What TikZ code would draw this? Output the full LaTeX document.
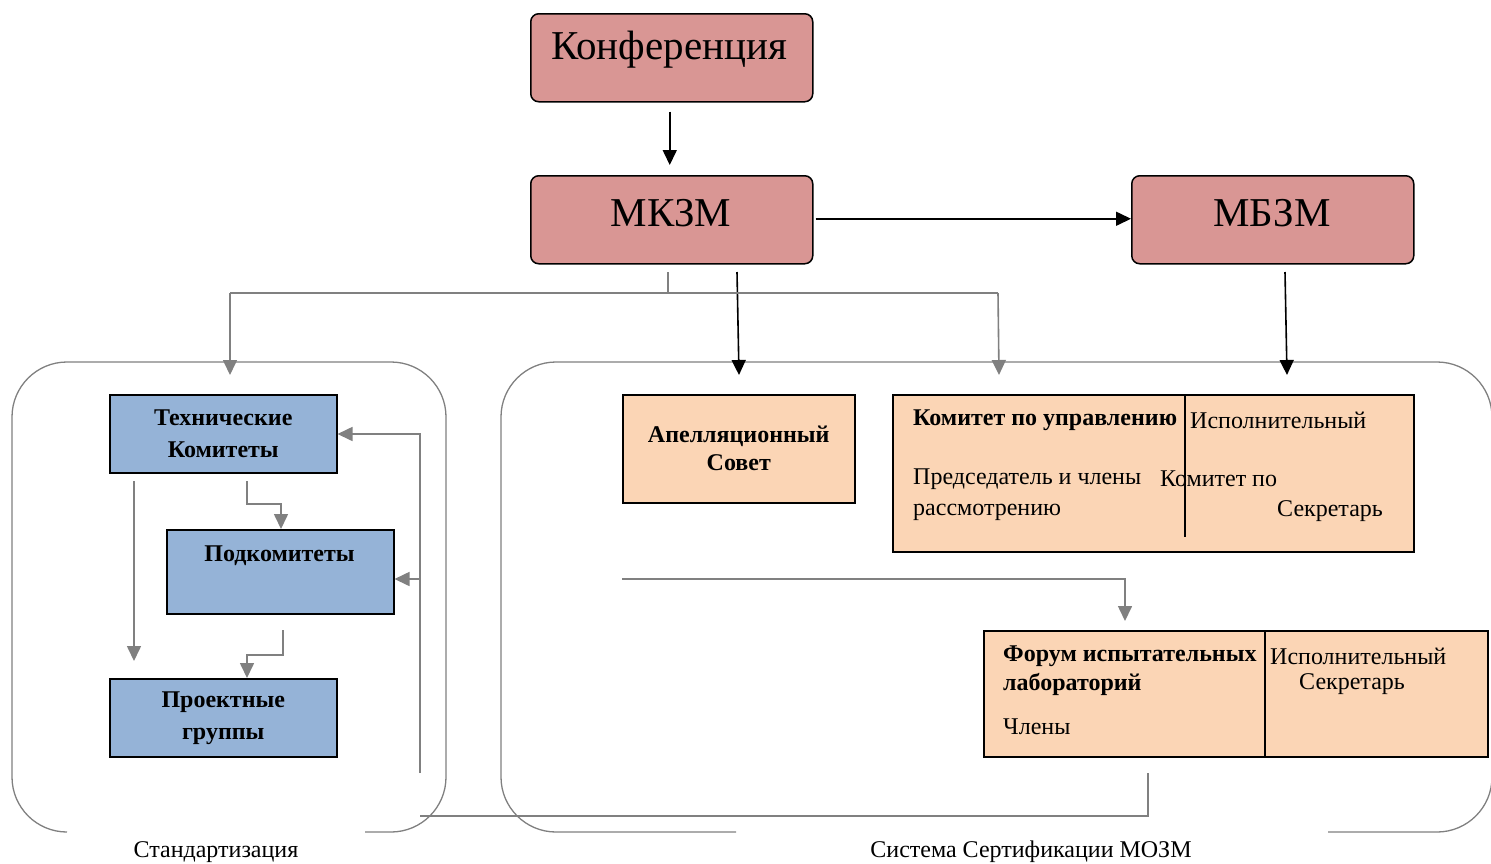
\documentclass[tikz,border=0pt]{standalone}
\usepackage{fontspec}
\setmainfont{Liberation Serif}
\usetikzlibrary{arrows.meta,calc}
\definecolor{pinkc}{HTML}{D99694}
\definecolor{bluec}{HTML}{95B3D7}
\definecolor{peachc}{HTML}{FBD5B5}
\definecolor{grayc}{HTML}{808080}
\tikzset{
  topbox/.style={draw=black,line width=1.5pt,rounded corners=8pt,fill=pinkc,minimum width=282pt,minimum height=88pt,anchor=north west,inner sep=0pt},
  toptxt/.style={inner sep=0pt,font=\fontsize{41}{44}\selectfont},
  bluebox/.style={draw=black,line width=1.5pt,fill=bluec,anchor=north west,inner sep=0pt,align=center,font=\fontsize{24}{32}\selectfont\bfseries},
  peachbox/.style={draw=black,line width=1.5pt,fill=peachc,anchor=north west,inner sep=0pt,align=center,font=\fontsize{24}{28}\selectfont\bfseries},
  txt/.style={inner sep=0pt,anchor=west,font=\fontsize{24}{28}\selectfont},
  btxt/.style={inner sep=0pt,anchor=west,font=\fontsize{24}{28}\selectfont\bfseries},
  container/.style={draw=grayc,line width=1.3pt,rounded corners=55pt},
  barrow/.style={draw=black,line width=1.6pt,-{Triangle[length=15pt,width=14pt]}},
  garrow/.style={draw=grayc,line width=1.6pt,-{Triangle[length=15pt,width=14pt]}},
  gline/.style={draw=grayc,line width=1.6pt},
  divider/.style={draw=black,line width=1.3pt}
}
\begin{document}
\begin{tikzpicture}[x=1pt,y=-1pt]
\useasboundingbox (0,0) rectangle (1491,863);

% containers
\draw[container] (365,832) -- (446,832) -- (446,362) -- (12,362) -- (12,832) -- (67,832);
\draw[container] (1328,832) -- (1492,832) -- (1492,362) -- (501,362) -- (501,832) -- (736,832);

% top boxes
\node[topbox] (conf) at (530,13) {};
\node[toptxt] (conft) at (669,50) {Конференция};
\node[topbox] (mkzm) at (530,175) {};
\node[toptxt] (mkzmt) at (671,213) {МКЗМ};
\node[topbox] (mbzm) at (1131,175) {};
\node[toptxt] (mbzmt) at (1272,213) {МБЗМ};

% left boxes
\node[bluebox,minimum width=227pt,minimum height=78pt] (tk) at (109,394) {Технические\\Комитеты};
\node[bluebox,minimum width=227pt,minimum height=84pt] (pk) at (166,529) {};
\node[inner sep=0pt,font=\fontsize{24}{28}\selectfont\bfseries] (pktxt) at (279.5,556) {Подкомитеты};
\node[bluebox,minimum width=227pt,minimum height=78pt] (pg) at (109,678) {Проектные\\группы};

% right boxes
\node[peachbox,minimum width=232pt,minimum height=108pt] (ap) at (622,394) {Апелляционный\\Совет};
\node[draw=black,line width=1.5pt,fill=peachc,anchor=north west,minimum width=521pt,minimum height=157pt,inner sep=0pt] (km) at (892,394) {};
\draw[divider] (1185,394) -- (1185,537);
\node[btxt] (km1) at (913,420) {Комитет по управлению};
\node[txt] (km2) at (1190,420) {Исполнительный};
\node[txt] (km3) at (913,479) {Председатель и члены};
\node[txt] (km3b) at (1160,479) {Комитет по};
\node[txt] (km4) at (913,512) {рассмотрению};
\node[txt] (km5) at (1277,511) {Секретарь};

\node[draw=black,line width=1.5pt,fill=peachc,anchor=north west,minimum width=504pt,minimum height=126pt,inner sep=0pt] (fr) at (983,630) {};
\draw[divider] (1265,630) -- (1265,756);
\node[btxt] (fr1) at (1003,656) {Форум испытательных};
\node[btxt] (fr2) at (1003,684) {лабораторий};
\node[txt] (fr3) at (1003,727) {Члены};
\node[txt] (fr4) at (1270,656) {Исполнительный};
\node[txt] (fr5) at (1299,684) {Секретарь};

% labels
\node[inner sep=0pt,font=\fontsize{24}{28}\selectfont] (lab1) at (216,852) {Стандартизация};
\node[inner sep=0pt,font=\fontsize{24}{28}\selectfont] (lab2) at (1031,852) {Система Сертификации МОЗМ};

% coordinates
\coordinate (c1) at (230,375);
\coordinate (c2) at (999,375);
\coordinate (c3) at (739,375);
\coordinate (c4) at (1287,375);
\coordinate (g0) at (668,272);
\coordinate (k0) at (737,272);
\coordinate (m0) at (1285,272);

% black arrows
\draw[barrow] ($(conf.south)+(-2,9)$) -- ($(mkzm.north)+(-2,-10)$);
\draw[barrow] ($(mkzm.east)+(2,-1)$) -- ($(mbzm.west)+(0,-1)$);
\draw[barrow] (k0) -- (c3);
\draw[barrow] (m0) -- (c4);

% gray top connector
\draw[gline] (g0) -- (668,293);
\draw[garrow] (230,293) -- (c1);
\draw[gline] (230,293) -- (998,293);
\draw[garrow] (998,293) -- (c2);

% left internal arrows
\draw[garrow] (134,481) -- (134,661);
\draw[garrow] (247,481) -- (247,504) -- (281,504) -- (pk.north -| 281,0);
\draw[garrow] (283,630) -- (283,655) -- (247,655) -- (pg.north -| 247,0);
\draw[garrow] (420,773) -- (420,434) -- (tk.east |- 0,434);
\draw[garrow] (420,579) -- (pk.east |- 0,579);

% right internal connectors
\draw[garrow] (622,579) -- (1125,579) -- (1125,621);
\draw[gline] (420,816) -- (1148,816) -- (1148,773);
\end{tikzpicture}
\end{document}
